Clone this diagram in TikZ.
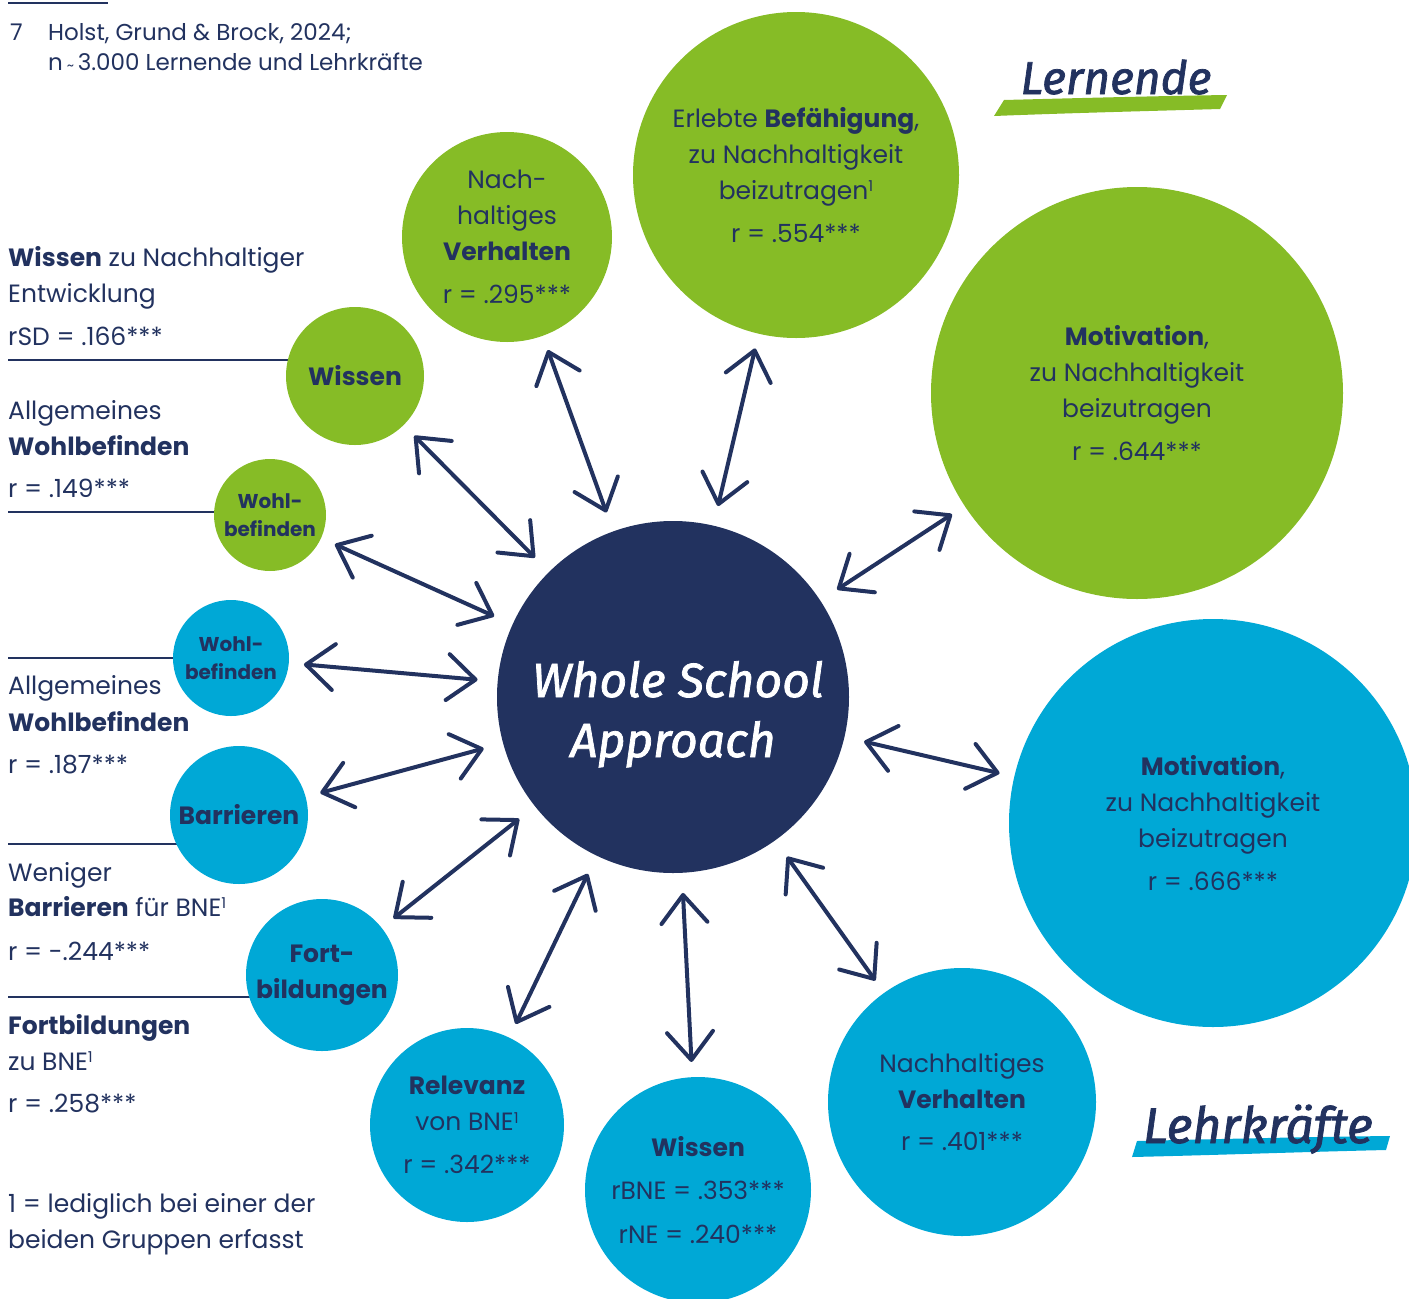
\documentclass[tikz,border=0pt]{standalone}
\usepackage{fontspec}
\setmainfont{Poppins}
\newfontfamily\handf[FakeBold=1.6]{Fira Sans}
\usetikzlibrary{arrows.meta}
\definecolor{navy}{HTML}{22325F}
\definecolor{lgreen}{HTML}{86BC26}
\definecolor{lblue}{HTML}{00A8D6}
\pgfdeclarelayer{bg}
\pgfsetlayers{bg,main}
\newcommand\supone{\raisebox{7.5pt}{\fontsize{15}{15}\selectfont 1}}
\tikzset{
  txt/.style={anchor=base west, inner sep=0pt, text=navy, font=\fontsize{25}{36}\selectfont},
  smalltxt/.style={anchor=base west, inner sep=0pt, text=navy, font=\fontsize{23}{30}\selectfont},
  bub/.style={circle, inner sep=0pt, align=center, text=navy, font=\fontsize{25}{36}\selectfont},
  lern/.style={bub, fill=lgreen},
  lehr/.style={bub, fill=lblue},
  smallbub/.style={font=\bfseries\fontsize{20}{28}\selectfont},
  rulel/.style={draw=navy, line width=1.3pt},
  arr/.style={draw=navy, line width=4pt, line cap=round,
    {Straight Barb[length=28pt,width=46pt,round]}-{Straight Barb[length=28pt,width=46pt,round]},
    shorten <=20pt, shorten >=15pt},
  hand/.style={inner sep=0pt, anchor=base, font=\handf\itshape\fontsize{46}{46}\selectfont},
}
\begin{document}
\begin{tikzpicture}[x=1pt,y=-1pt]
\useasboundingbox (0,0) rectangle (1409,1299);

% top reference
\draw[rulel] (8,3) -- (108,3);
\node[smalltxt] (n7) at (10,40) {7};
\node[smalltxt] (ref1) at (48,40) {Holst, Grund \& Brock, 2024;};
\node[smalltxt] (ref2) at (48,70) {n\,{\fontsize{14}{14}\selectfont\textasciitilde}\,3.000 Lernende und Lehrkräfte};

% brush strokes and group labels
\fill[lgreen] (994,116) -- (1004,100) .. controls (1080,98) and (1160,96) .. (1227,95)
  -- (1220,109) .. controls (1150,111) and (1070,113) .. cycle;
\node[hand, text=navy] (lern) at (1116,94) {Lernende};
\fill[lblue] (1132,1157) -- (1137,1141) .. controls (1220,1139) and (1300,1137) .. (1390,1136)
  -- (1386,1150) .. controls (1300,1152) and (1220,1155) .. cycle;
\node[hand, text=navy, font=\handf\itshape\fontsize{50}{50}\selectfont] (lehr) at (1258,1143) {Lehrkräfte};

% central circle
\node[circle, fill=navy, minimum size=352pt, inner sep=0pt] (wsa) at (673,697) {};
\node[hand, text=white, font=\handf\itshape\fontsize{48}{48}\selectfont] (wsa1) at (678,697) {Whole School};
\node[hand, text=white, font=\handf\itshape\fontsize{48}{48}\selectfont] (wsa2) at (673,757) {Approach};

% Lernende circles
\node[lern, minimum size=326pt] (bef) at (796,175) {Erlebte \textbf{Befähigung},\\zu Nachhaltigkeit\\beizutragen\supone\\[7pt]r = .554***};
\node[lern, minimum size=412pt] (motG) at (1137,393) {\textbf{Motivation},\\zu Nachhaltigkeit\\beizutragen\\[7pt]r = .644***};
\node[lern, minimum size=210pt] (nvG) at (507,237) {Nach-\\haltiges\\\textbf{Verhalten}\\[7pt]r = .295***};
\node[lern, minimum size=138pt] (wissG) at (355,376) {\textbf{Wissen}};
\node[lern, smallbub, minimum size=112pt] (wohlG) at (270,515) {Wohl-\\befinden};

% Lehrkraefte circles
\node[lehr, smallbub, minimum size=116pt] (wohlB) at (231,658) {Wohl-\\befinden};
\node[lehr, minimum size=138pt] (barr) at (239,815) {\textbf{Barrieren}};
\node[lehr, minimum size=152pt] (fort) at (322,975) {\textbf{Fort-}\\\textbf{bildungen}};
\node[lehr, minimum size=194pt] (relev) at (467,1125) {\textbf{Relevanz}\\von BNE\supone\\[7pt]r = .342***};
\node[lehr, minimum size=226pt] (wissB) at (698,1190) {\textbf{Wissen}\\[7pt]rBNE = .353***\\[8pt]rNE = .240***};
\node[lehr, minimum size=268pt] (nvB) at (962,1102) {Nachhaltiges\\\textbf{Verhalten}\\[6pt]r = .401***};
\node[lehr, minimum size=408pt] (motB) at (1213,823) {\textbf{Motivation},\\zu Nachhaltigkeit\\beizutragen\\[7pt]r = .666***};

% left rules
\coordinate (l1) at (8,360);
\coordinate (l2) at (8,512);
\coordinate (l3) at (8,658);
\coordinate (l4) at (8,844);
\coordinate (l5) at (8,997);
\begin{pgfonlayer}{bg}
\draw[rulel] (l1) -- (l1 -| wissG.center);
\draw[rulel] (l2) -- (l2 -| wohlG.center);
\draw[rulel] (l3) -- (l3 -| wohlB.center);
\draw[rulel] (l4) -- (l4 -| barr.center);
\draw[rulel] (l5) -- (l5 -| fort.center);
\end{pgfonlayer}

% left texts
\node[txt] (t1a) at (8,266) {\textbf{Wissen} zu Nachhaltiger};
\node[txt] (t1b) at (8,302) {Entwicklung};
\node[txt] (t1c) at (8,345) {rSD = .166***};
\node[txt] (t2a) at (8,419) {Allgemeines};
\node[txt] (t2b) at (8,455) {\textbf{Wohlbefinden}};
\node[txt] (t2c) at (8,497) {r = .149***};
\node[txt] (t3a) at (8,694) {Allgemeines};
\node[txt] (t3b) at (8,731) {\textbf{Wohlbefinden}};
\node[txt] (t3c) at (8,773) {r = .187***};
\node[txt] (t4a) at (8,881) {Weniger};
\node[txt] (t4b) at (8,916) {\textbf{Barrieren} für BNE\supone};
\node[txt] (t4c) at (8,960) {r = -.244***};
\node[txt] (t5a) at (8,1034) {\textbf{Fortbildungen}};
\node[txt] (t5b) at (8,1070) {zu BNE\supone};
\node[txt] (t5c) at (8,1112) {r = .258***};
\node[txt] (f1) at (8,1212) {1 = lediglich bei einer der};
\node[txt] (f2) at (8,1248) {beiden Gruppen erfasst};

% arrows
\draw[arr] (wsa) -- (wissG);
\draw[arr] (wsa) -- (nvG);
\draw[arr] (wsa) -- (bef);
\draw[arr] (wsa) -- (motG);
\draw[arr] (wsa) -- (wohlG);
\draw[arr] (wsa) -- (wohlB);
\draw[arr] (wsa) -- (barr);
\draw[arr] (wsa) -- (fort);
\draw[arr] (wsa) -- (relev);
\draw[arr] (wsa) -- (wissB);
\draw[arr] (wsa) -- (nvB);
\draw[arr] (wsa) -- (motB);
\end{tikzpicture}
\end{document}
